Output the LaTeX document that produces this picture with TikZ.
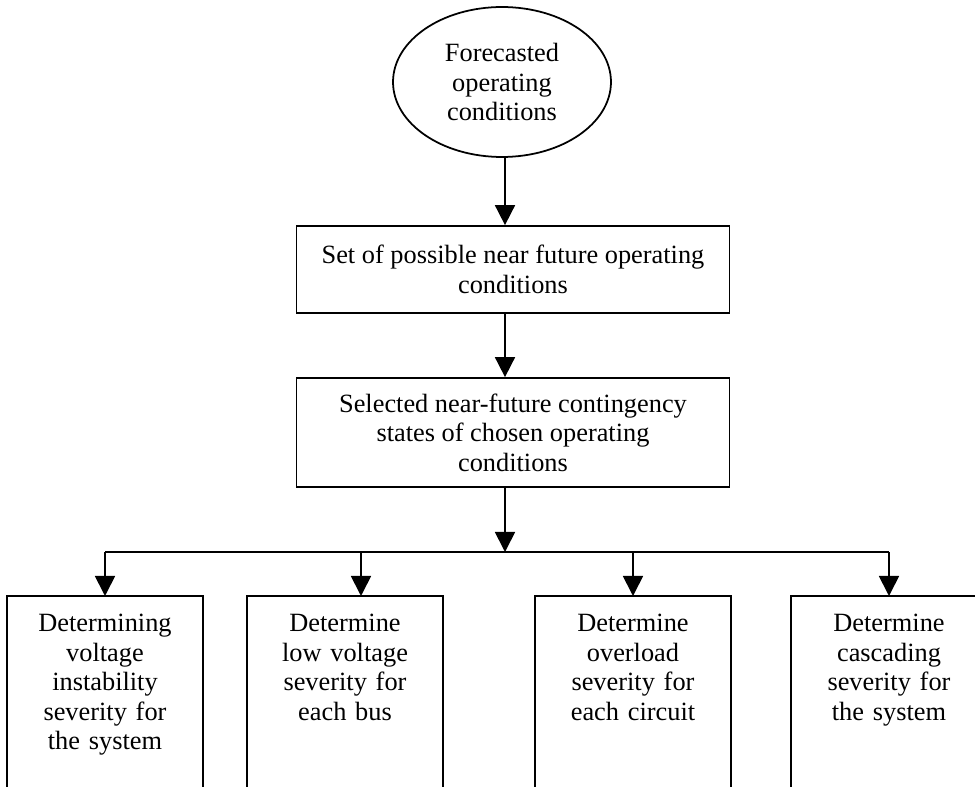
\documentclass[tikz,border=0pt]{standalone}
\usepackage{fontspec}
\setmainfont{Liberation Serif}
\usetikzlibrary{positioning, shapes, arrows.meta}
\tikzset{
  stage/.style={draw, align=center, minimum width=8.66cm, inner sep=0pt},
  leaf/.style={anchor=north, align=center, text width=3.6cm, inner xsep=0.14cm, inner ysep=10pt},
  arr/.style={-{Triangle[width=11.4pt,length=11.4pt]}}}

\begin{document}
\begin{tikzpicture}[x=0.02cm, y=-0.02cm, line width=1pt, font=\fontsize{15}{16.8}\selectfont]
\useasboundingbox (0,0) rectangle (975,787);
\node (fore) [ellipse, draw, minimum width=4.36cm, minimum height=3cm, inner sep=0pt, align=center] at (502,82) {Forecasted\\operating\\conditions};
\node (set) [stage, minimum height=1.74cm] at (513,269.5) {Set of possible near future operating\\conditions};
\node (sel) [stage, minimum height=2.18cm] at (513,432.5) {Selected near-future contingency\\states of chosen operating\\conditions};
\coordinate (bus) at (505,552);
\node (d1) [leaf] at (105,596) {Determining\\voltage\\instability\\severity for\\the system};
\node (d2) [leaf] at (345,596) {Determine\\low voltage\\severity for\\each bus};
\node (d3) [leaf] at (633,596) {Determine\\overload\\severity for\\each circuit};
\node (d4) [leaf] at (889,596) {Determine\\cascading\\severity for\\the system};
% open frames, cut off by the page
\foreach \n in {d1,d2,d3,d4}
  \draw (\n.north west |- 0,800) -- (\n.north west) -- (\n.north east) -- (\n.north east |- 0,800);
\coordinate (d2in) at ([xshift=0.32cm]d2.north);
\draw[arr] (fore.south -| bus) -- (set.north -| bus);
\draw[arr] (set.south -| bus) -- (sel.north -| bus);
\draw[arr] (sel.south -| bus) -- (bus);
\draw (d1.north |- bus) -- (d4.north |- bus);
\draw[arr] (d1.north |- bus) -- (d1.north);
\draw[arr] (d2in |- bus) -- (d2in);
\draw[arr] (d3.north |- bus) -- (d3.north);
\draw[arr] (d4.north |- bus) -- (d4.north);
\end{tikzpicture}
\end{document}
